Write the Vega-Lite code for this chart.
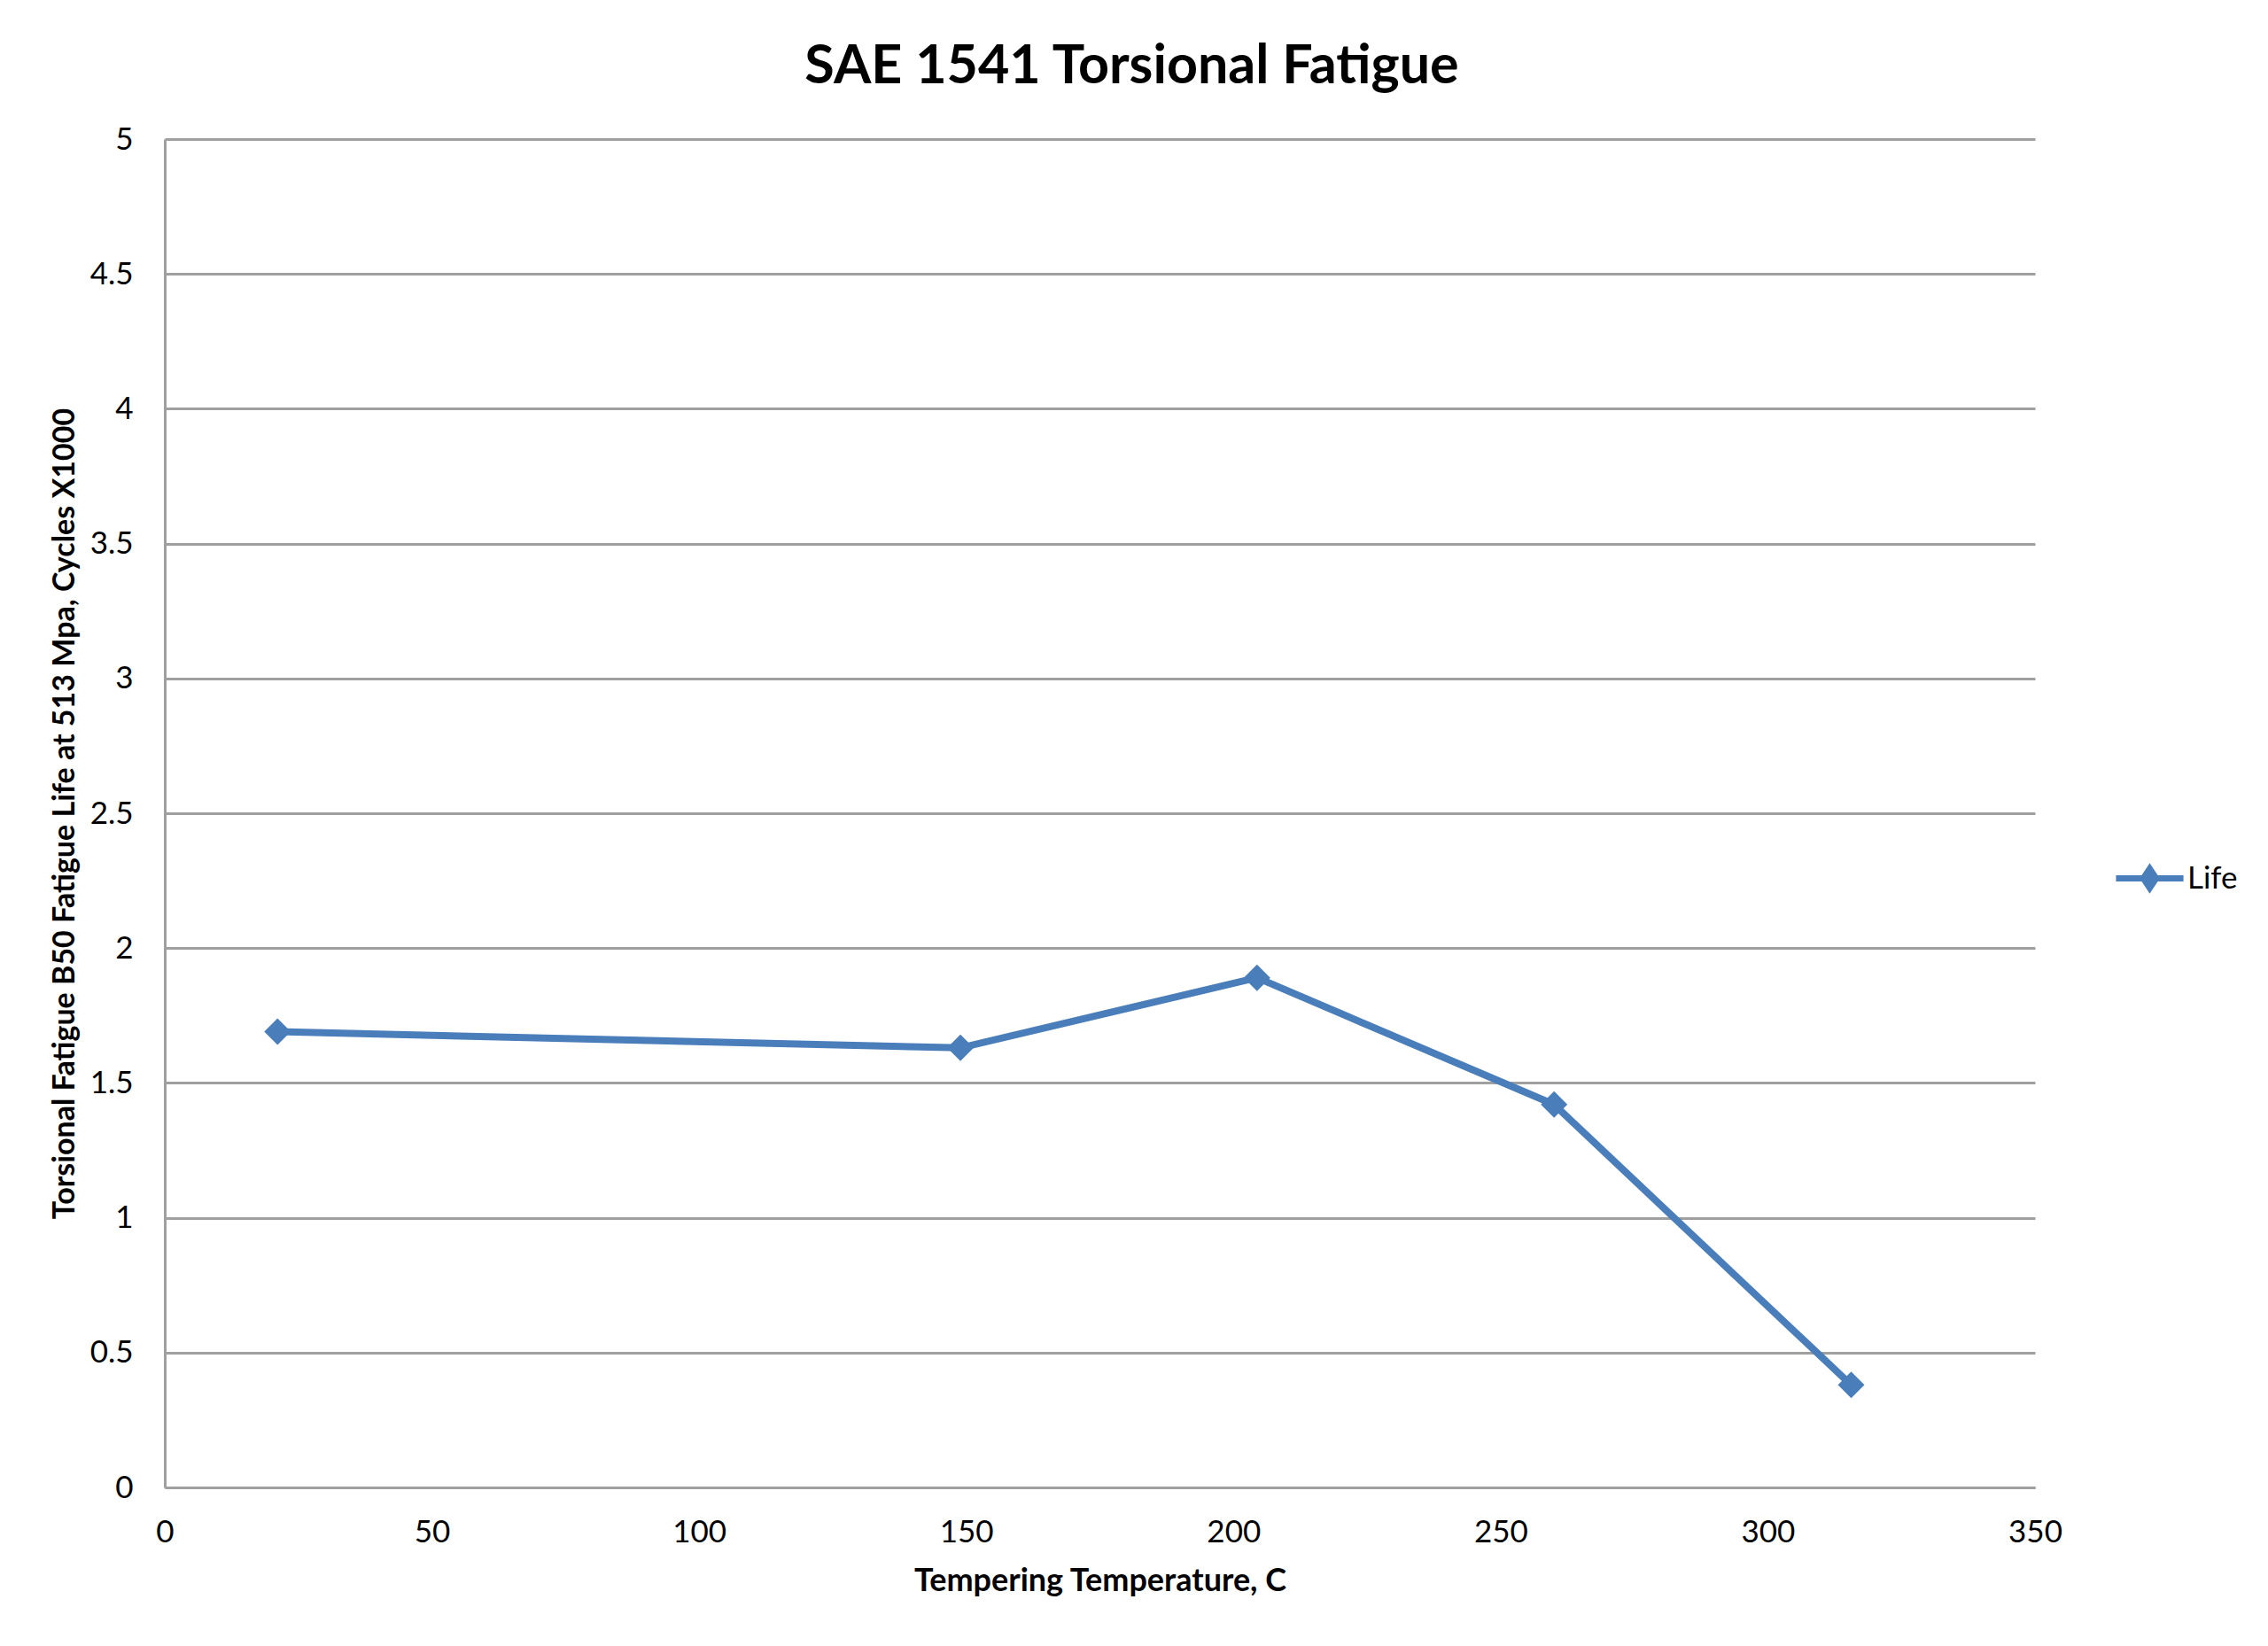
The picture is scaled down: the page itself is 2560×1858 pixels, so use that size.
{
  "$schema": "https://vega.github.io/schema/vega-lite/v6.json",
  "width": 2111,
  "height": 1522,
  "autosize": {"type": "none"},
  "padding": {"left": 186, "top": 157, "right": 263, "bottom": 179},
  "background": "white",
  "title": {
    "text": "SAE 1541 Torsional Fatigue",
    "font": "Lato",
    "fontSize": 61,
    "fontWeight": "bold",
    "color": "#000000",
    "anchor": "middle",
    "dx": 36,
    "offset": 33
  },
  "data": {
    "values": [
      {"temp": 21.1, "life": 1.69, "series": "Life"},
      {"temp": 148.9, "life": 1.63, "series": "Life"},
      {"temp": 204.4, "life": 1.89, "series": "Life"},
      {"temp": 260.0, "life": 1.42, "series": "Life"},
      {"temp": 315.6, "life": 0.38, "series": "Life"}
    ]
  },
  "mark": {
    "type": "line",
    "strokeWidth": 8,
    "point": {"shape": "diamond", "size": 900, "filled": true, "opacity": 1}
  },
  "encoding": {
    "x": {
      "field": "temp",
      "type": "quantitative",
      "scale": {"domain": [0, 350], "nice": false},
      "axis": {
        "title": "Tempering Temperature, C",
        "values": [0, 50, 100, 150, 200, 250, 300, 350],
        "grid": false,
        "labelAngle": 0,
        "labelPadding": 33,
        "titlePadding": 20,
        "titleFontSize": 36
      }
    },
    "y": {
      "field": "life",
      "type": "quantitative",
      "scale": {"domain": [0, 5], "nice": false},
      "axis": {
        "title": "Torsional Fatigue B50 Fatigue Life at 513 Mpa, Cycles X1000",
        "values": [0, 0.5, 1, 1.5, 2, 2.5, 3, 3.5, 4, 4.5, 5],
        "format": "~g",
        "grid": true,
        "labelPadding": 36,
        "titlePadding": 11,
        "titleFontSize": 34
      }
    },
    "color": {
      "field": "series",
      "type": "nominal",
      "scale": {"range": ["#4a7ebb"]},
      "legend": {
        "title": null,
        "orient": "none",
        "legendX": 2202,
        "legendY": 796,
        "symbolType": "M-1,-0.09H1V0.09H-1Z M0,-0.45L0.3,0L0,0.45L-0.3,0Z",
        "symbolSize": 5800,
        "symbolStrokeWidth": 0,
        "symbolFillColor": "#4a7ebb",
        "symbolOpacity": 1,
        "labelFont": "Lato",
        "labelFontSize": 35,
        "labelColor": "#000000",
        "labelOffset": 4
      }
    }
  },
  "config": {
    "view": {"stroke": null},
    "axis": {
      "domainColor": "#a0a0a0",
      "domainWidth": 3,
      "gridColor": "#a0a0a0",
      "gridWidth": 3,
      "ticks": false,
      "labelFlush": false,
      "labelOverlap": false,
      "labelFont": "Lato",
      "labelFontSize": 35,
      "labelColor": "#000000",
      "titleFont": "Lato",
      "titleFontWeight": "bold",
      "titleColor": "#000000"
    }
  }
}
